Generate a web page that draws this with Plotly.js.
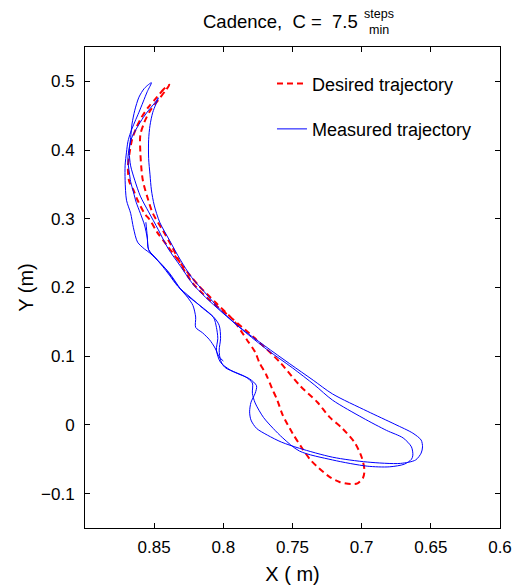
<!DOCTYPE html>
<html>
<head>
<meta charset="utf-8">
<script src="https://cdn.plot.ly/plotly-3.0.1.min.js"></script>
<style>html,body{margin:0;padding:0;background:#fff;}#chart{width:522px;height:585px;}</style>
</head>
<body>
<div id="chart"></div>
<script>
// Desired trajectory (closed loop), X (m) and Y (m)
var desiredX = [0.839,0.843,0.848,0.854,0.859,0.863,0.866,0.868,0.869,0.868,0.865,0.862,0.857,0.853,0.848,0.841,0.835,0.829,0.823,0.817,0.805,0.793,0.783,0.777,0.774,0.769,0.765,0.761,0.757,0.750,0.743,0.737,0.732,0.723,0.716,0.708,0.703,0.699,0.698,0.700,0.705,0.714,0.723,0.732,0.745,0.759,0.776,0.795,0.810,0.822,0.830,0.837,0.844,0.851,0.855,0.858,0.859,0.860,0.860,0.857,0.853,0.847,0.842,0.839];
var desiredY = [0.495,0.489,0.477,0.463,0.448,0.432,0.415,0.393,0.374,0.354,0.342,0.327,0.308,0.298,0.281,0.262,0.246,0.230,0.215,0.201,0.177,0.153,0.124,0.106,0.091,0.073,0.054,0.036,0.014,-0.012,-0.034,-0.051,-0.061,-0.076,-0.083,-0.086,-0.085,-0.077,-0.066,-0.047,-0.026,-0.005,0.011,0.033,0.058,0.091,0.124,0.157,0.182,0.206,0.231,0.259,0.284,0.308,0.332,0.354,0.368,0.397,0.422,0.441,0.457,0.473,0.486,0.495];

// Measured trajectory, in time order (several gait cycles)
var measuredX = [
 0.856,0.855,0.854,0.849,0.842,0.836,0.829,0.817,0.807,0.803,0.802,0.803,0.802,0.799,0.790,0.781,0.776,0.777,0.780,0.781,0.780,0.776,0.768,0.758,0.745,0.721,0.696,0.672,0.661,0.657,0.656,
 0.657,0.663,0.676,0.696,0.721,0.735,0.752,0.770,0.788,0.802,0.813,0.823,0.831,0.839,0.846,0.850,0.852,0.853,0.854,0.854,0.853,0.851,0.847,
 0.849,0.854,0.858,0.862,0.866,0.868,0.869,0.868,0.867,0.865,0.863,0.860,0.857,0.855,0.854,0.849,0.844,0.839,0.833,0.824,0.815,0.807,0.805,0.804,0.805,0.802,0.795,0.784,0.779,0.779,0.777,0.771,0.764,0.757,0.745,0.721,0.696,0.680,0.669,0.664,0.663,
 0.664,0.670,0.682,0.699,0.721,0.734,0.750,0.768,0.786,0.801,0.813,0.822,0.831,0.840,0.847,0.854,0.860,0.864,0.867,0.868,0.867,0.866,0.864,0.861,0.857,0.852,
 0.855,0.858,0.861,0.864,0.867,0.869,0.870,0.871,0.871,0.870,0.867,0.865,0.862,0.857,0.853,0.846,0.839,0.831,0.826,0.822,0.820,0.820,0.815,0.810,0.806,0.803,0.800];
var measuredY = [
 0.295,0.275,0.255,0.243,0.228,0.211,0.193,0.174,0.157,0.145,0.126,0.109,0.094,0.084,0.075,0.067,0.057,0.046,0.033,0.019,0.007,-0.005,-0.015,-0.025,-0.034,-0.047,-0.054,-0.056,-0.051,-0.041,-0.032,
 -0.022,-0.012,0.001,0.020,0.045,0.065,0.089,0.115,0.142,0.167,0.192,0.215,0.240,0.269,0.295,0.320,0.342,0.364,0.388,0.415,0.436,0.455,0.476,
 0.470,0.458,0.447,0.434,0.419,0.404,0.386,0.368,0.354,0.339,0.324,0.308,0.291,0.272,0.255,0.243,0.231,0.218,0.202,0.186,0.170,0.156,0.142,0.126,0.109,0.091,0.080,0.070,0.061,0.046,0.032,0.011,-0.005,-0.019,-0.038,-0.051,-0.060,-0.061,-0.057,-0.050,-0.044,
 -0.032,-0.019,-0.008,0.010,0.036,0.058,0.083,0.109,0.138,0.164,0.186,0.205,0.231,0.257,0.284,0.310,0.333,0.356,0.377,0.397,0.418,0.438,0.458,0.477,0.490,0.498,
 0.485,0.470,0.455,0.441,0.426,0.412,0.397,0.378,0.356,0.327,0.308,0.287,0.266,0.256,0.250,0.236,0.221,0.198,0.186,0.174,0.157,0.142,0.134,0.124,0.112,0.099,0.093];

var xTicks = [0.85,0.8,0.75,0.7,0.65,0.6];
var xTickText = ["0.85","0.8","0.75","0.7","0.65","0.6"];
var yTicks = [-0.1,0,0.1,0.2,0.3,0.4,0.5];
var yTickText = ["\u22120.1","0","0.1","0.2","0.3","0.4","0.5"];

var FONT = "Liberation Sans, Arial, Helvetica, sans-serif";

var traces = [
 {x: desiredX, y: desiredY, type: 'scatter', mode: 'lines', name: 'Desired trajectory',
  legendgroup: 'a', line: {color: '#ff0000', width: 2, dash: '6px,4px', shape: 'spline', smoothing: 0.8}},
 {x: measuredX, y: measuredY, type: 'scatter', mode: 'lines', name: 'Measured trajectory',
  legendgroup: 'b', line: {color: '#0000ff', width: 1, shape: 'spline', smoothing: 0.8}}
];

var axisCommon = {
 showgrid: false, zeroline: false, showline: true, linecolor: '#000', linewidth: 1,
 mirror: 'ticks', ticks: 'inside', ticklen: 5, tickcolor: '#000', tickwidth: 1,
 tickfont: {family: FONT, size: 17, color: '#000'}
};

var layout = {
 width: 522, height: 585,
 margin: {l: 85, r: 22, t: 47, b: 57, pad: 0},
 paper_bgcolor: '#fff', plot_bgcolor: '#fff',
 font: {family: FONT, color: '#000'},
 showlegend: true,
 legend: {x: 0.4506, y: 0.962, xanchor: 'left', yanchor: 'top', bgcolor: 'rgba(0,0,0,0)',
  borderwidth: 0, traceorder: 'grouped', tracegroupgap: 19,
  font: {family: FONT, size: 18, color: '#000'}},
 xaxis: Object.assign({}, axisCommon, {
  range: [0.9, 0.6], tickmode: 'array', tickvals: xTicks, ticktext: xTickText,
  ticklabelstandoff: 4,
  title: {text: 'X ( m)', font: {family: FONT, size: 20, color: '#000'}, standoff: 10}
 }),
 yaxis: Object.assign({}, axisCommon, {
  range: [-0.15, 0.55], tickmode: 'array', tickvals: yTicks, ticktext: yTickText,
  ticklabelstandoff: 6,
  title: {text: 'Y (m)', font: {family: FONT, size: 20, color: '#000'}, standoff: 2}
 }),
 annotations: [
  {xref: 'paper', yref: 'paper', x: 0.6627, y: 1.052, xanchor: 'right', yanchor: 'middle',
   text: 'Cadence,\u00a0 C\u00a0=\u00a0 7.5', showarrow: false, font: {family: FONT, size: 18.5, color: '#000'}},
  {xref: 'paper', yref: 'paper', x: 0.667, y: 1.068, xanchor: 'left', yanchor: 'middle',
   text: 'steps', showarrow: false, font: {family: FONT, size: 12.5, color: '#000'}},
  {xref: 'paper', yref: 'paper', x: 0.679, y: 1.036, xanchor: 'left', yanchor: 'middle',
   text: 'min', showarrow: false, font: {family: FONT, size: 12.5, color: '#000'}}
 ]
};

Plotly.newPlot('chart', traces, layout, {displayModeBar: false, staticPlot: true});
</script>
</body>
</html>
